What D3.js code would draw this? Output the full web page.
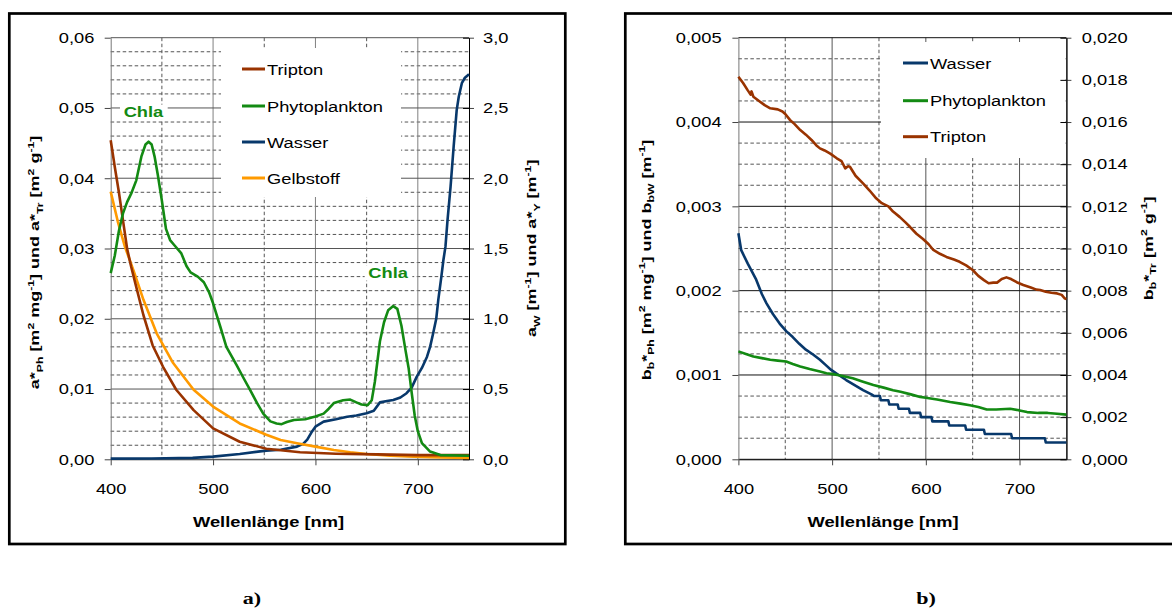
<!DOCTYPE html>
<meta charset="utf-8">
<head>
  <title>Absorption und Rückstreuung</title>
</head>

<style>
body { margin: 0; background: white; }
svg { display: block; background: white; }
text {
  font-family: "Liberation Sans", Arial, Helvetica, sans-serif;
  fill: black;
  font-size: 15px;
}
.grid-dash { stroke: #555; stroke-width: 1; stroke-dasharray: 3.5,2.5; }
.title { font-weight: bold; }
</style>

<body>
  <svg width="1172" height="614"></svg>

  <script src="https://cdnjs.cloudflare.com/ajax/libs/d3/7.8.5/d3.min.js"></script>
  <script>
// ---------- Daten a) Absorption ----------
var triptonA_nm  = [400, 404, 408, 412, 416, 420, 425, 432, 441, 451, 464, 481, 500, 526, 552, 585, 620, 660, 700, 750];
var triptonA_val = [0.0454, 0.0416, 0.0380, 0.0340, 0.0300, 0.0274, 0.0245, 0.0205, 0.0162, 0.0132, 0.0099, 0.0070, 0.0044, 0.0025, 0.0015, 0.0010, 0.0008, 0.0007, 0.0006, 0.0006];

var phytoA_nm  = [400, 404, 408, 412, 416, 420, 425, 430, 434, 437, 440, 443, 446, 450, 454, 458, 462, 469, 474, 478, 485, 491, 496, 500, 507, 513, 523, 530, 536, 543, 549, 556, 562, 567, 572, 579, 590, 600, 608, 613, 618, 627, 634, 640, 645, 651, 655, 658, 663, 667, 671, 676, 680, 684, 688, 691, 694, 697, 700, 704, 712, 722, 750];
var phytoA_val = [0.0265, 0.0290, 0.0325, 0.0350, 0.0366, 0.0378, 0.0397, 0.0431, 0.0448, 0.0452, 0.0448, 0.0430, 0.0405, 0.0368, 0.0328, 0.0312, 0.0305, 0.0293, 0.0275, 0.0266, 0.0260, 0.0252, 0.0238, 0.0222, 0.0189, 0.0160, 0.0134, 0.0115, 0.0099, 0.0080, 0.0065, 0.0054, 0.0051, 0.0050, 0.0053, 0.0056, 0.0057, 0.0061, 0.0065, 0.0072, 0.0080, 0.0084, 0.0085, 0.0081, 0.0078, 0.0077, 0.0084, 0.0110, 0.0168, 0.0195, 0.0212, 0.0218, 0.0214, 0.0190, 0.0155, 0.0130, 0.0095, 0.0062, 0.0040, 0.0023, 0.0011, 0.0006, 0.0005];

// rechte Achse [m-1]
var wasserA_nm  = [400, 440, 480, 500, 526, 552, 566, 582, 588, 592, 596, 600, 608, 620, 631, 640, 650, 657, 663, 670, 676, 683, 689, 694, 699, 704, 709, 712, 715, 718, 720, 723, 725, 727, 729, 732, 735, 738, 740, 743, 746, 750];
var wasserA_val = [0.005, 0.006, 0.010, 0.019, 0.038, 0.062, 0.068, 0.090, 0.110, 0.140, 0.190, 0.232, 0.268, 0.285, 0.303, 0.312, 0.327, 0.345, 0.405, 0.415, 0.422, 0.440, 0.470, 0.510, 0.588, 0.650, 0.730, 0.800, 0.897, 1.000, 1.134, 1.300, 1.418, 1.513, 1.700, 1.940, 2.225, 2.486, 2.580, 2.676, 2.715, 2.740];

var gelbA_nm  = [400, 407, 414, 422, 432, 445, 461, 481, 500, 526, 552, 566, 582, 600, 618, 634, 650, 673, 696, 722, 750];
var gelbA_val = [1.905, 1.690, 1.510, 1.350, 1.135, 0.895, 0.685, 0.495, 0.375, 0.255, 0.175, 0.137, 0.114, 0.090, 0.066, 0.050, 0.038, 0.026, 0.019, 0.014, 0.009];

// ---------- Daten b) Rückstreuung ----------
var wasserB_nm  = [400, 403, 410, 419, 425, 430, 437, 444, 451, 458, 465, 472, 480, 487, 493, 499, 507, 515, 524, 533, 542, 545, 551, 552, 560, 561, 570, 571, 582, 583, 594, 595, 606, 607, 624, 625, 642, 643, 662, 663, 691, 692, 727, 728, 750];
var wasserB_val = [0.00268, 0.00248, 0.00232, 0.00213, 0.00196, 0.00185, 0.00172, 0.00161, 0.00152, 0.00145, 0.00137, 0.00130, 0.00124, 0.00118, 0.00112, 0.00106, 0.00100, 0.00094, 0.00088, 0.00082, 0.00077, 0.00075, 0.00075, 0.00070, 0.00070, 0.00065, 0.00065, 0.00060, 0.00060, 0.00055, 0.00055, 0.00050, 0.00050, 0.00045, 0.00045, 0.00040, 0.00040, 0.00035, 0.00035, 0.00030, 0.00030, 0.00025, 0.00025, 0.00020, 0.00020];

var phytoB_nm  = [400, 408, 416, 425, 434, 442, 451, 458, 466, 476, 487, 494, 501, 510, 522, 533, 544, 555, 565, 573, 584, 594, 600, 612, 626, 637, 647, 656, 665, 675, 690, 700, 708, 720, 730, 740, 750];
var phytoB_val = [0.00128, 0.00125, 0.00122, 0.00120, 0.00118, 0.00117, 0.00116, 0.00113, 0.00110, 0.00107, 0.00104, 0.00102, 0.00101, 0.00099, 0.00096, 0.00092, 0.00088, 0.00085, 0.00082, 0.00080, 0.00077, 0.00074, 0.00073, 0.00071, 0.00068, 0.00066, 0.00064, 0.00062, 0.00059, 0.00059, 0.00060, 0.00058, 0.00056, 0.00055, 0.00055, 0.00054, 0.00053];

// rechte Achse [m2 g-1]
var triptonB_nm  = [400, 405, 410, 413, 414, 416, 422, 428, 434, 442, 447, 450, 455, 460, 466, 472, 478, 483, 487, 492, 498, 505, 510, 514, 517, 519, 525, 533, 540, 547, 553, 560, 565, 572, 578, 583, 590, 597, 603, 608, 615, 622, 630, 636, 643, 650, 656, 662, 667, 672, 676, 681, 686, 691, 697, 704, 712, 718, 722, 728, 734, 740, 745, 748, 750];
var triptonB_val = [0.01815, 0.01785, 0.01750, 0.01730, 0.01745, 0.01720, 0.01700, 0.01680, 0.01665, 0.01660, 0.01650, 0.01638, 0.01610, 0.01590, 0.01562, 0.01540, 0.01515, 0.01490, 0.01475, 0.01465, 0.01450, 0.01428, 0.01415, 0.01380, 0.01390, 0.01388, 0.01345, 0.01309, 0.01275, 0.01238, 0.01215, 0.01200, 0.01175, 0.01150, 0.01125, 0.01103, 0.01070, 0.01045, 0.01020, 0.00993, 0.00975, 0.00960, 0.00948, 0.00937, 0.00920, 0.00898, 0.00870, 0.00850, 0.00835, 0.00838, 0.00838, 0.00855, 0.00863, 0.00855, 0.00840, 0.00827, 0.00815, 0.00805, 0.00803, 0.00795, 0.00790, 0.00787, 0.00780, 0.00764, 0.00760];

// ---------- Achsen ----------
var xTicks   = [400, 500, 600, 700];
var xMinor   = [450, 550, 650];
var yTicksA  = [0, 0.01, 0.02, 0.03, 0.04, 0.05, 0.06];
var yTicksAR = [0, 0.5, 1.0, 1.5, 2.0, 2.5, 3.0];
var yTicksB  = [0, 0.001, 0.002, 0.003, 0.004, 0.005];
var yTicksBR = [0, 0.002, 0.004, 0.006, 0.008, 0.010, 0.012, 0.014, 0.016, 0.018, 0.020];

var chlaLabels = [{nm: 432, val: 0.0487}, {nm: 671, val: 0.0258}];

var col = {tripton: '#993300', phyto: '#138a13', wasser: '#08386b', gelb: '#ff9a00'};

var SX = 1.22;   // Text ist im Original in die Breite gezogen
var de = d3.formatLocale({decimal: ',', thousands: '.', grouping: [3], currency: ['', '']});

var svg = d3.select('svg');

function rich(text, parts, size) {
  var cur = 0;
  parts.forEach(function(p) {
    var shift = p[1] === 'sub' ? size * 0.28 : (p[1] === 'sup' ? -size * 0.38 : 0);
    text.append('tspan')
      .attr('dy', shift - cur)
      .attr('font-size', p[1] === 'n' ? size : size * 0.68)
      .text(p[0]);
    cur = shift;
  });
}

function hText(parent, x, y, sx) {
  return parent.append('text')
    .attr('transform', 'translate(' + [x, y] + ') scale(' + sx + ',1)');
}

function vTitle(parent, x, y, parts) {
  var t = parent.append('text')
    .attr('class', 'title')
    .attr('text-anchor', 'middle')
    .attr('transform', 'translate(' + [x, y] + ') scale(0.74,1) rotate(-90)');
  rich(t, parts, 18);
}

function drawPanel(p) {
  var g = svg.append('g');
  var x0 = p.x.range()[0], x1 = p.x.range()[1];
  var yb = p.yL.range()[0], yt = p.yL.range()[1];

  // Gitter
  g.selectAll('.hmin').data(p.yMinor).enter().append('line')
    .attr('class', 'grid-dash')
    .attr('x1', x0).attr('x2', x1)
    .attr('y1', function(d) { return p.yL(d); })
    .attr('y2', function(d) { return p.yL(d); });
  g.selectAll('.vmin').data(xMinor).enter().append('line')
    .attr('class', 'grid-dash')
    .attr('x1', function(d) { return p.x(d); })
    .attr('x2', function(d) { return p.x(d); })
    .attr('y1', yt).attr('y2', yb);
  g.selectAll('.vmaj').data(xTicks.slice(1)).enter().append('line')
    .attr('stroke', p.vColor)
    .attr('x1', function(d) { return p.x(d); })
    .attr('x2', function(d) { return p.x(d); })
    .attr('y1', yt).attr('y2', yb);
  g.selectAll('.hmaj').data(p.yTicks).enter().append('line')
    .attr('stroke', p.hColor)
    .attr('x1', x0).attr('x2', x1)
    .attr('y1', function(d) { return p.yL(d); })
    .attr('y2', function(d) { return p.yL(d); });

  // Legendenfläche
  g.append('rect')
    .attr('x', p.legendBox[0]).attr('y', p.legendBox[1])
    .attr('width', p.legendBox[2]).attr('height', p.legendBox[3])
    .attr('fill', 'white');

  // Achsen
  var ax = g.append('g')
    .attr('transform', 'translate(0,' + yb + ')')
    .call(d3.axisBottom(p.x).tickValues(xTicks).tickSize(6).tickSizeOuter(0).tickFormat(d3.format('d')));
  ax.selectAll('text').attr('y', 24).attr('transform', 'scale(' + SX + ',1)');

  var al = g.append('g')
    .attr('transform', 'translate(' + x0 + ',0)')
    .call(d3.axisLeft(p.yL).tickValues(p.yTicks).tickSize(6).tickSizeOuter(0).tickFormat(de.format(p.fmtL)));
  al.selectAll('text').attr('x', p.leftGap / SX).attr('transform', 'scale(' + SX + ',1)');

  var ar = g.append('g')
    .attr('transform', 'translate(' + x1 + ',0)')
    .call(d3.axisRight(p.yR).tickValues(p.yTicksR).tickSize(5).tickSizeOuter(0).tickFormat(de.format(p.fmtR)));
  ar.selectAll('text').attr('x', p.rightGap / SX).attr('transform', 'scale(' + SX + ',1)');
  g.append('g')
    .attr('transform', 'translate(' + x1 + ',0)')
    .call(d3.axisRight(p.yR).tickValues(p.yTicksR).tickSize(-6).tickSizeOuter(0).tickFormat(''));

  [ax, al, ar].forEach(function(a) {
    a.attr('font-size', null).attr('font-family', null);
    a.selectAll('line').attr('stroke', '#444');
  });
  ax.select('.domain').attr('stroke', p.hColor);
  al.select('.domain').attr('stroke', '#777');
  ar.select('.domain').attr('stroke', '#222');

  // Kurven
  p.series.forEach(function(s) {
    var y = s.axis === 'R' ? p.yR : p.yL;
    var line = d3.line()
      .x(function(d) { return p.x(d[0]); })
      .y(function(d) { return y(d[1]); });
    g.append('path')
      .datum(d3.zip(s.nm, s.val))
      .attr('fill', 'none')
      .attr('stroke', s.color)
      .attr('stroke-width', 2.6)
      .attr('stroke-linejoin', 'round')
      .attr('d', line);
  });

  // Legende
  p.legend.forEach(function(l, i) {
    var cy = p.legendY[i];
    g.append('line')
      .attr('x1', p.legendX[0]).attr('x2', p.legendX[1])
      .attr('y1', cy).attr('y2', cy)
      .attr('stroke', l.color).attr('stroke-width', 3);
    hText(g, p.legendX[1] + 2, cy + 5.5, SX).text(l.name);
  });

  // Achsentitel
  hText(g, p.xTitle[0], p.xTitle[1], SX)
    .attr('class', 'title').attr('text-anchor', 'middle')
    .text('Wellenlänge [nm]');
  vTitle(g, p.yTitleL[0], p.yTitleL[1], p.titleL);
  vTitle(g, p.yTitleR[0], p.yTitleR[1], p.titleR);

  return g;
}

// Rahmen
svg.append('rect').attr('x', 9.3).attr('y', 13.5).attr('width', 556).attr('height', 530.5)
  .attr('fill', 'none').attr('stroke', 'black').attr('stroke-width', 2.7);
svg.append('rect').attr('x', 625.3).attr('y', 13.5).attr('width', 560).attr('height', 530.5)
  .attr('fill', 'none').attr('stroke', 'black').attr('stroke-width', 2.7);

var xA  = d3.scaleLinear().domain([400, 750]).range([110.7, 469]);
var yAL = d3.scaleLinear().domain([0, 0.06]).range([459.3, 37.7]);
var yAR = d3.scaleLinear().domain([0, 3]).range([459.3, 37.7]);

var gA = drawPanel({
  x: xA, yL: yAL, yR: yAR,
  yTicks: yTicksA, yTicksR: yTicksAR,
  yMinor: d3.range(1, 30).map(function(i) { return i * 0.002; }).filter(function(d, i) { return (i + 1) % 5 !== 0; }),
  fmtL: '.2f', fmtR: '.1f', leftGap: -16.4, rightGap: 14,
  hColor: '#555', vColor: '#808080',
  legendBox: [221, 48, 180, 149],
  legendX: [242, 265], legendY: [69, 106, 142, 178],
  legend: [{name: 'Tripton', color: col.tripton}, {name: 'Phytoplankton', color: col.phyto},
           {name: 'Wasser', color: col.wasser}, {name: 'Gelbstoff', color: col.gelb}],
  series: [
    {nm: wasserA_nm, val: wasserA_val, axis: 'R', color: col.wasser},
    {nm: gelbA_nm, val: gelbA_val, axis: 'R', color: col.gelb},
    {nm: triptonA_nm, val: triptonA_val, axis: 'L', color: col.tripton},
    {nm: phytoA_nm, val: phytoA_val, axis: 'L', color: col.phyto}
  ],
  xTitle: [268.5, 527],
  yTitleL: [39, 262.5], yTitleR: [536, 248.3],
  titleL: [['a*', 'n'], ['Ph', 'sub'], [' [m', 'n'], ['2', 'sup'], [' mg', 'n'], ['-1', 'sup'], ['] und a*', 'n'], ['Tr', 'sub'], [' [m', 'n'], ['2', 'sup'], [' g', 'n'], ['-1', 'sup'], [']', 'n']],
  titleR: [['a', 'n'], ['W', 'sub'], [' [m', 'n'], ['-1', 'sup'], ['] und a*', 'n'], ['Y', 'sub'], [' [m', 'n'], ['-1', 'sup'], [']', 'n']]
});

// Chla-Beschriftungen
chlaLabels.forEach(function(c) {
  var t = hText(gA, xA(c.nm), yAL(c.val), SX)
    .attr('class', 'title').attr('text-anchor', 'middle')
    .attr('fill', col.phyto).style('fill', col.phyto)
    .text('Chla');
  var bb = t.node().getBBox();
  gA.insert('rect', function() { return t.node(); })
    .attr('transform', t.attr('transform'))
    .attr('x', bb.x - 3).attr('y', bb.y + 1)
    .attr('width', bb.width + 6).attr('height', bb.height - 2)
    .attr('fill', 'white');
});

var xB  = d3.scaleLinear().domain([400, 750]).range([738.4, 1066.4]);
var yBL = d3.scaleLinear().domain([0, 0.005]).range([459.3, 37.7]);
var yBR = d3.scaleLinear().domain([0, 0.020]).range([459.3, 37.7]);

drawPanel({
  x: xB, yL: yBL, yR: yBR,
  yTicks: yTicksB, yTicksR: yTicksBR,
  yMinor: d3.range(1, 20).map(function(i) { return i * 0.00025; }).filter(function(d, i) { return (i + 1) % 4 !== 0; }),
  fmtL: '.3f', fmtR: '.3f', leftGap: -16.8, rightGap: 15.4,
  hColor: '#111', vColor: '#555',
  legendBox: [881, 42, 184.5, 116],
  legendX: [903, 928], legendY: [63, 100.7, 136.7],
  legend: [{name: 'Wasser', color: col.wasser}, {name: 'Phytoplankton', color: col.phyto},
           {name: 'Tripton', color: col.tripton}],
  series: [
    {nm: wasserB_nm, val: wasserB_val, axis: 'L', color: col.wasser},
    {nm: phytoB_nm, val: phytoB_val, axis: 'L', color: col.phyto},
    {nm: triptonB_nm, val: triptonB_val, axis: 'R', color: col.tripton}
  ],
  xTitle: [883, 527],
  yTitleL: [650.5, 260], yTitleR: [1152.5, 248.3],
  titleL: [['b', 'n'], ['b', 'sub'], ['*', 'n'], ['Ph', 'sub'], [' [m', 'n'], ['2', 'sup'], [' mg', 'n'], ['-1', 'sup'], ['] und b', 'n'], ['bW', 'sub'], [' [m', 'n'], ['-1', 'sup'], [']', 'n']],
  titleR: [['b', 'n'], ['b', 'sub'], ['*', 'n'], ['Tr', 'sub'], [' [m', 'n'], ['2', 'sup'], [' g', 'n'], ['-1', 'sup'], [']', 'n']]
});

// Teilbild-Kennungen
[['a)', 252], ['b)', 926]].forEach(function(k) {
  hText(svg, k[1], 604, 1.3)
    .attr('text-anchor', 'middle')
    .style('font-family', '"Liberation Serif", "Times New Roman", serif')
    .style('font-weight', 'bold')
    .style('font-size', '17px')
    .text(k[0]);
});
  </script>
</body>
</html>
